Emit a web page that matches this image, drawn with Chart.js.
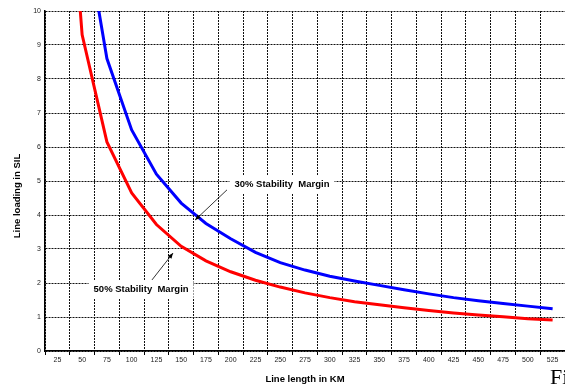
<!DOCTYPE html>
<html>
<head>
<meta charset="utf-8">
<script src="https://cdn.jsdelivr.net/npm/chart.js@4/dist/chart.umd.min.js"></script>
<style>
html,body{margin:0;padding:0;background:#fff;}
#wrap{width:565px;height:386px;position:relative;overflow:hidden;}
</style>
</head>
<body>
<div id="wrap"><canvas id="c" width="565" height="386"></canvas></div>
<script>
// Categories: line length in km
const lengths = [25,50,75,100,125,150,175,200,225,250,275,300,325,350,375,400,425,450,475,500,525];
// 30% stability margin (blue)
const margin30 = [25.8,12.9,8.6,6.5,5.2,4.35,3.75,3.3,2.9,2.6,2.38,2.2,2.06,1.93,1.8,1.68,1.57,1.48,1.4,1.32,1.24];
// 50% stability margin (red)
const margin50 = [18.6,9.3,6.15,4.65,3.72,3.08,2.65,2.33,2.08,1.88,1.71,1.57,1.45,1.36,1.27,1.19,1.12,1.06,1.01,0.95,0.91];
// y tick values
const yTicks = [0,1,2,3,4,5,6,7,8,9,10];
// annotation labels: text, text centre [catIndex, value], arrow tail, arrow tip
const annLabels = ['30% Stability  Margin','50% Stability  Margin'];
const annText = [[9.07,4.91],[3.38,1.82]];
const annTail = [[6.85,4.74],[3.82,2.09]];
const annTip  = [[5.56,3.85],[4.67,2.88]];

const annPlugin = {
  id:'annPlugin',
  afterDraw(chart){
    const ctx = chart.ctx, xs = chart.scales.x, ys = chart.scales.y, ca = chart.chartArea;
    ctx.save();
    ctx.font = 'bold 9.5px Arial, "Liberation Sans", sans-serif';
    ctx.textAlign = 'center';
    ctx.textBaseline = 'middle';
    for (let i=0;i<annLabels.length;i++){
      const tx = xs.getPixelForValue(annText[i][0]), ty = ys.getPixelForValue(annText[i][1]);
      const w = ctx.measureText(annLabels[i]).width;
      ctx.fillStyle = '#fff';
      ctx.fillRect(tx - w/2 - 5, ty - 9, w + 10, 18);
      ctx.fillStyle = '#000';
      ctx.fillText(annLabels[i], tx, ty);
      const x1 = xs.getPixelForValue(annTail[i][0]), y1 = ys.getPixelForValue(annTail[i][1]);
      const x2 = xs.getPixelForValue(annTip[i][0]), y2 = ys.getPixelForValue(annTip[i][1]);
      ctx.strokeStyle = '#000'; ctx.lineWidth = 0.8;
      ctx.beginPath(); ctx.moveTo(x1,y1); ctx.lineTo(x2,y2); ctx.stroke();
      const a = Math.atan2(y2-y1, x2-x1), L = 6, s = 0.4;
      ctx.beginPath();
      ctx.moveTo(x2,y2);
      ctx.lineTo(x2 - L*Math.cos(a-s), y2 - L*Math.sin(a-s));
      ctx.lineTo(x2 - L*Math.cos(a+s), y2 - L*Math.sin(a+s));
      ctx.closePath(); ctx.fillStyle='#000'; ctx.fill();
    }
    // axis titles
    ctx.font = 'bold 9.5px Arial, "Liberation Sans", sans-serif';
    ctx.fillText('Line length in KM', (ca.left+ca.right)/2, 379);
    ctx.save();
    ctx.translate(17.5, 196);
    ctx.rotate(-Math.PI/2);
    ctx.fillText('Line loading in SIL', 0, 0);
    ctx.restore();
    // caption fragment
    ctx.font = '22px "Liberation Serif", "Times New Roman", serif';
    ctx.textAlign = 'left';
    ctx.textBaseline = 'alphabetic';
    ctx.fillText('Figure', 550, 384);
    ctx.restore();
  }
};

new Chart(document.getElementById('c'), {
  type:'line',
  data:{
    labels: lengths.map(String),
    datasets:[
      {label:'30% Stability Margin', data: margin30, borderColor:'#0000FF', borderWidth:3, pointRadius:0, tension:0, fill:false, clip:0},
      {label:'50% Stability Margin', data: margin50, borderColor:'#FF0000', borderWidth:3, pointRadius:0, tension:0, fill:false, clip:0}
    ]
  },
  options:{
    responsive:false,
    animation:false,
    devicePixelRatio:1,
    layout:{padding:{top:11,left:0,right:0,bottom:0}},
    plugins:{legend:{display:false},tooltip:{enabled:false}},
    scales:{
      x:{
        type:'category',
        offset:true,
        afterFit(s){ s.height = 35; },
        grid:{offset:true, color:'#111', lineWidth:1, drawTicks:true, tickLength:4, tickColor:'#000', tickWidth:1},
        border:{display:true, color:'#000', width:1.5, dash:[2,1]},
        ticks:{autoSkip:false, maxRotation:0, minRotation:0, padding:1, color:'#222', font:{family:'Arial, "Liberation Sans", sans-serif', size:7}}
      },
      y:{
        min:0, max:10,
        afterFit(s){ s.width = 45; },
        afterBuildTicks(s){ s.ticks = yTicks.map(v=>({value:v})); },
        grid:{color:'#111', lineWidth:1, drawTicks:false},
        border:{display:true, color:'#000', width:1.5, dash:[2,1]},
        ticks:{padding:4, color:'#222', font:{family:'Arial, "Liberation Sans", sans-serif', size:7}}
      }
    }
  },
  plugins:[annPlugin]
});
</script>
</body>
</html>
